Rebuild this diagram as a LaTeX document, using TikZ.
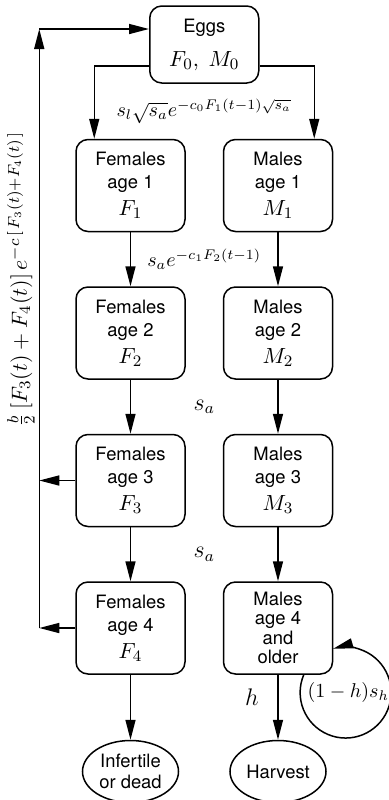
\documentclass[tikz,border=0pt]{standalone}
\usepackage{amsmath}
\usepackage{fontspec}
\setsansfont{TeX Gyre Heros}
\usepackage{tikz}
\usetikzlibrary{positioning,shapes.geometric,arrows.meta,calc}
\newcommand{\popvar}[1]{{\fontsize{10.95}{12}\selectfont$#1$}}

\begin{document}
\begin{tikzpicture}[line width=0.75pt, >={Triangle[length=10pt,width=5pt]},
agenode/.style={rectangle, draw, rounded corners=6pt, minimum width=54.5pt, minimum height=46pt, inner sep=1pt, align=center, font=\sffamily\fontsize{9.2}{11.5}\selectfont},
eggnode/.style={agenode, minimum height=38.5pt},
endnode/.style={ellipse, draw, minimum width=48pt, minimum height=31pt, inner sep=0pt, align=center, font=\sffamily\fontsize{9.2}{10.5}\selectfont},
ratelabel/.style={font=\fontsize{10}{12}\selectfont},
sidelabel/.style={font=\fontsize{11}{13}\selectfont},
biglabel/.style={font=\fontsize{12}{14}\selectfont},
]
\useasboundingbox (0,0) rectangle (194pt,-400pt);
%Nodes
\node[agenode]          (F1)       at (65.25pt,-92.75pt)   {Females\\age 1\\[2pt]\popvar{F_1}};
\node[agenode]          (M1)       [right=18.5pt of F1]    {Males\\age 1\\[2pt]\popvar{M_1}};
\node[agenode]          (F2)       [below=27pt of F1]      {Females\\age 2\\[2pt]\popvar{F_2}};
\node[agenode]          (M2)       [below=27pt of M1]      {Males\\age 2\\[2pt]\popvar{M_2}};
\node[agenode]          (F3)       [below=27pt of F2]      {Females\\age 3\\[2pt]\popvar{F_3}};
\node[agenode]          (M3)       [below=27pt of M2]      {Males\\age 3\\[2pt]\popvar{M_3}};
\node[agenode]          (F4)       [below=27pt of F3]      {Females\\age 4\\[2pt]\popvar{F_4}};
\node[agenode, font=\sffamily\fontsize{9.2}{9.6}\selectfont] (M4) [below=27pt of M3] {Males\\age 4\\and\\older};
\coordinate             (mid1)     at ($(F1.north)!0.5!(M1.north)$);
\node[eggnode]          (Eggs)     [above=27.5pt of mid1]  {Eggs\\[5.5pt]\popvar{F_0,\ M_0}};
\node[endnode]          (Dead)     [below=32.5pt of F4]    {Infertile\\or dead};
\node[endnode]          (Harvest)  [below=32.5pt of M4]    {Harvest};

%Labels
\node[ratelabel]        (r0)       at ($(Eggs.south)!0.5!(mid1)$)   {$s_l\sqrt{s_a}e^{-c_0F_1(t-1)\sqrt{s_a}}$};
\node[ratelabel]        (r1)       at ($(F1.south)!0.5!(M2.north)$) {$s_ae^{-c_1F_2(t-1)}$};
\node[biglabel]         (r2)       at ($(F2.south)!0.5!(M3.north)$) {$s_a$};
\node[biglabel]         (r3)       at ($(F3.south)!0.5!(M4.north)$) {$s_a$};
\node[ratelabel]        (rloop)    at ([shift={(7.5pt,-32pt)}]M4.east) {$(1-h)s_h$};

%Corners of the feedback line
\coordinate[left=18pt of F3.west]  (J3);
\coordinate[left=18pt of F4.west]  (J4);
\coordinate[above=7.75pt of Eggs.west] (Ein);
\coordinate (Jtop) at (J4 |- Ein);

%Lines
\draw[->] ([yshift=9pt]Eggs.south west) -| ([xshift=9.5pt]F1.north west);
\draw[->] ([yshift=9pt]Eggs.south east) -| ([xshift=-9.5pt]M1.north east);
\draw[->] (F1.south) -- (F2.north);
\draw[->] (M1.south) -- (M2.north);
\draw[->] (F2.south) -- (F3.north);
\draw[->] (M2.south) -- (M3.north);
\draw[->] (F3.south) -- (F4.north);
\draw[->] (M3.south) -- (M4.north);
\draw[->] (F4.south) -- (Dead.north);
\draw[->] (M4.south) -- node[biglabel, pos=0.34, left=6pt] {$h$} (Harvest.north);
\draw[->] ([xshift=-14.75pt]M4.south east) arc[start angle=157, end angle=466, radius=22.75pt];
\draw[->] (F3.west) -- (J3);
\draw[->] (F4.west) -- (J4);
\draw[->] (J4) -- node[sidelabel, pos=0.5825, rotate=90, anchor=south, inner sep=2pt] {$\frac{b}{2}\left[F_3(t)+F_4(t)\right]e^{-c\,[\,F_3(t)+F_4(t)\,]}$} (Jtop);
\draw[->] (Jtop) -- (Ein);

\end{tikzpicture}
\end{document}
